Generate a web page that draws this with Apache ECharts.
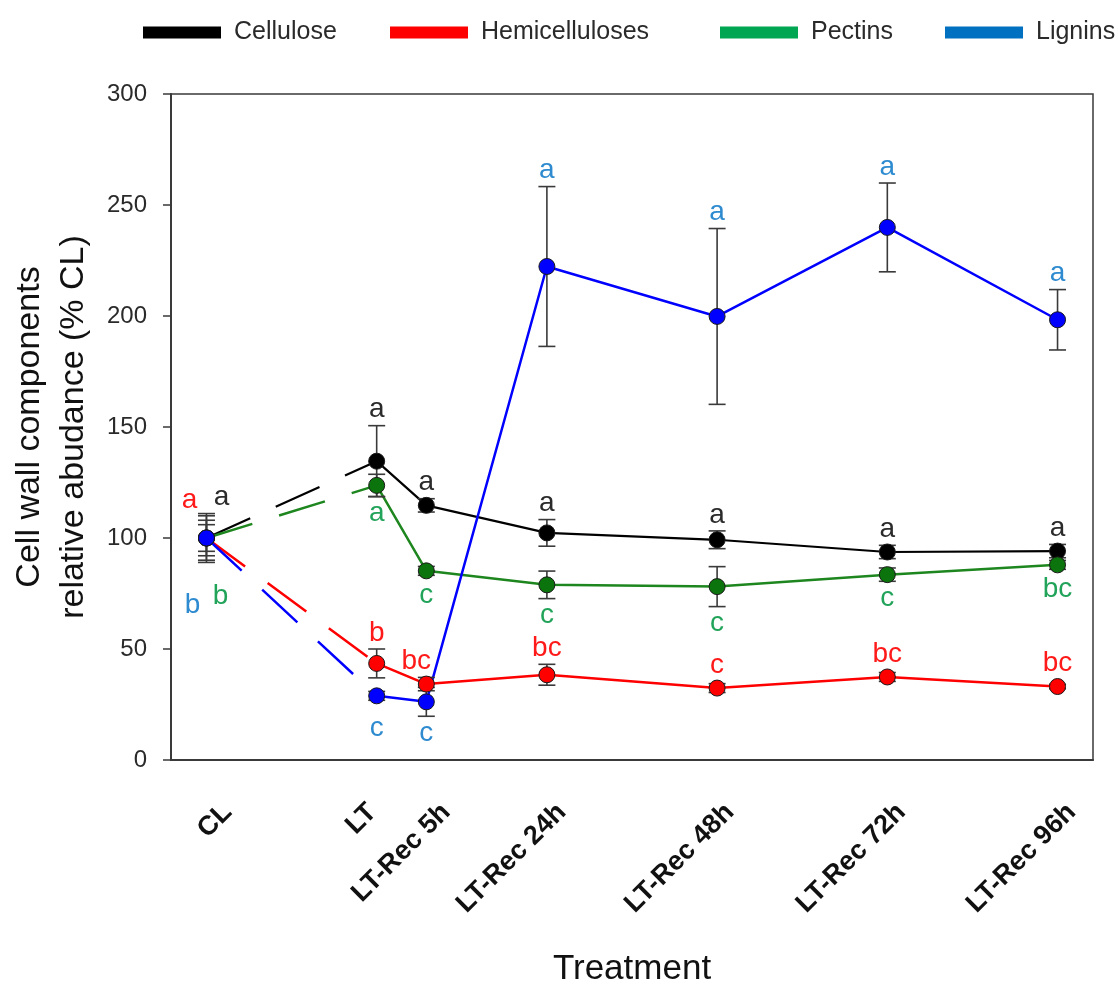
<!DOCTYPE html>
<html>
<head>
<meta charset="utf-8">
<script src="https://cdn.jsdelivr.net/npm/echarts@6/dist/echarts.min.js"></script>
<style>html,body{margin:0;padding:0;background:#fff}#c{width:1118px;height:992px}</style>
</head>
<body>
<div id="c"></div>
<script>
// ---------- data ----------
var categories = ['CL', 'LT', 'LT-Rec 5h', 'LT-Rec 24h', 'LT-Rec 48h', 'LT-Rec 72h', 'LT-Rec 96h'];
var xPos = [-24, 0, 7, 24, 48, 72, 96];
var yTicks = [0, 50, 100, 150, 200, 250, 300];

var celluloseMean = [100, 134.6, 114.7, 102.3, 99.2, 93.7, 94.1];
var celluloseErr  = [11, 16, 3, 6, 4, 3, 3];
var celluloseLetters = ['a', 'a', 'a', 'a', 'a', 'a', 'a'];
var celluloseSide = ['up', 'up', 'up', 'up', 'up', 'up', 'up'];

var hemiMean = [100, 43.5, 34.2, 38.4, 32.4, 37.4, 33.1];
var hemiErr  = [8, 6.5, 3, 4.7, 2, 2, 1];
var hemiLetters = ['a', 'b', 'bc', 'bc', 'c', 'bc', 'bc'];
var hemiSide = ['up', 'up', 'up', 'up', 'up', 'up', 'up'];

var pectinMean = [100, 123.7, 85.2, 78.9, 78.1, 83.5, 87.9];
var pectinErr  = [6, 5, 2, 6.2, 9, 3, 2];
var pectinLetters = ['b', 'a', 'c', 'c', 'c', 'c', 'bc'];
var pectinSide = ['down', 'down', 'down', 'down', 'down', 'down', 'down'];

var ligninMean = [100, 28.9, 26.2, 222.3, 199.8, 239.9, 198.3];
var ligninErr  = [10, 2, 6.5, 36, 39.6, 20, 13.6];
var ligninLetters = ['b', 'c', 'c', 'a', 'a', 'a', 'a'];
var ligninSide = ['down', 'down', 'down', 'up', 'up', 'up', 'up'];

// ---------- style ----------
var FONT = 'Liberation Sans, Arial, sans-serif';
var comps = [
  {name: 'Cellulose', mean: celluloseMean, err: celluloseErr, letters: celluloseLetters, side: celluloseSide,
   line: '#000000', marker: '#000000', letter: '#2b2b2b', legend: '#000000', lw: 2.2,
   nudge: {0: [15, 0]}},
  {name: 'Hemicelluloses', mean: hemiMean, err: hemiErr, letters: hemiLetters, side: hemiSide,
   line: '#ff0000', marker: '#ff0000', letter: '#ff1a1a', legend: '#ff0000', lw: 2.5,
   nudge: {0: [-17, -4], 2: [-10, 0]}},
  {name: 'Pectins', mean: pectinMean, err: pectinErr, letters: pectinLetters, side: pectinSide,
   line: '#1e861e', marker: '#0c740c', letter: '#22a35a', legend: '#00a651', lw: 2.5,
   nudge: {0: [14, 28]}},
  {name: 'Lignins', mean: ligninMean, err: ligninErr, letters: ligninLetters, side: ligninSide,
   line: '#0000ff', marker: '#0000ff', letter: '#2f8bd0', legend: '#0070c0', lw: 2.5,
   nudge: {0: [-14, 28], 1: [0, 8]}}
];
var legendLeft = [138, 385, 715, 940];
var xLabelShift = [3.0, -0.6, 2.8, 2.1, 1.8, 2.0, 2.0];
var MARKER_R = 8;

// ---------- build ----------
var series = [];
comps.forEach(function (c, ci) {
  var pts = xPos.map(function (x, i) { return [x, c.mean[i]]; });
  series.push({
    name: c.name + ' (CL-LT)', type: 'line', data: pts.slice(0, 2), symbol: 'none', z: 2 + ci * 0.01,
    lineStyle: {color: c.line, width: c.lw, type: [48, 28]}, silent: true
  });
  series.push({
    name: c.name + ' (line)', type: 'line', data: pts.slice(1), symbol: 'none', z: 2 + ci * 0.01,
    lineStyle: {color: c.line, width: c.lw}, silent: true
  });
  series.push({
    name: c.name + ' (err)', type: 'custom', z: 3,
    data: xPos.map(function (x, i) { return [x, c.mean[i], c.err[i]]; }),
    encode: {x: 0, y: 1},
    renderItem: function (params, api) {
      var x = api.value(0), m = api.value(1), e = api.value(2);
      var top = api.coord([x, m + e]), bot = api.coord([x, m - e]);
      var hw = 8.5;
      var st = {stroke: '#3a3a3a', lineWidth: 1.6};
      return {type: 'group', children: [
        {type: 'line', shape: {x1: top[0], y1: top[1], x2: bot[0], y2: bot[1]}, style: st},
        {type: 'line', shape: {x1: top[0] - hw, y1: top[1], x2: top[0] + hw, y2: top[1]}, style: st},
        {type: 'line', shape: {x1: bot[0] - hw, y1: bot[1], x2: bot[0] + hw, y2: bot[1]}, style: st}
      ]};
    }
  });
  series.push({
    name: c.name, type: 'scatter', data: pts, symbol: 'circle', symbolSize: MARKER_R * 2, z: 4 + ci * 0.01,
    itemStyle: {color: c.marker, borderColor: '#1a1a1a', borderWidth: 1, opacity: 1}
  });
  series.push({
    name: c.name + ' (letters)', type: 'custom', z: 5,
    data: xPos.map(function (x, i) { return [x, c.mean[i], c.err[i], i]; }),
    encode: {x: 0, y: 1},
    renderItem: function (params, api) {
      var x = api.value(0), m = api.value(1), e = api.value(2), i = api.value(3);
      var p = api.coord([x, m]);
      var px, py;
      if (c.side[i] === 'up') {
        var t = api.coord([x, m + e])[1];
        py = Math.min(t, p[1] - 7) - 16;
      } else {
        var b = api.coord([x, m - e])[1];
        py = Math.max(b, p[1] + 7) + 17;
      }
      px = p[0];
      var n = c.nudge[i];
      if (n) { px += n[0]; py += n[1]; }
      return {type: 'text', x: px, y: py, style: {
        text: c.letters[i], fill: c.letter, font: '28px ' + FONT, align: 'center', verticalAlign: 'middle'}};
    }
  });
});

var legends = comps.map(function (c, i) {
  return {
    data: [{name: c.name, itemStyle: {color: c.legend, borderWidth: 0}}],
    left: legendLeft[i], top: 15, icon: 'rect', itemWidth: 78, itemHeight: 12,
    selectedMode: false,
    textStyle: {fontSize: 25, color: '#2a2a2a', fontFamily: FONT, padding: [0, 0, 0, 8]}
  };
});

var option = {
  backgroundColor: '#ffffff',
  animation: false,
  legend: legends,
  grid: {left: 171, right: 25, top: 94, bottom: 231, show: true, borderColor: '#3a3a3a', borderWidth: 1.5},
  xAxis: {
    type: 'value', min: -29, max: 101,
    name: 'Treatment', nameLocation: 'middle', nameGap: 192,
    nameTextStyle: {fontSize: 35, color: '#111', fontFamily: FONT},
    axisLine: {show: true, onZero: false, lineStyle: {color: '#3a3a3a', width: 2}},
    axisTick: {show: false},
    splitLine: {show: false},
    axisLabel: {
      customValues: xPos.map(function (x, i) { return x + xLabelShift[i]; }),
      rotate: 45, margin: 48, fontSize: 27, fontWeight: 'bold', color: '#111', fontFamily: FONT,
      formatter: function (v) {
        for (var i = 0; i < xPos.length; i++) {
          if (Math.abs(xPos[i] + xLabelShift[i] - v) < 0.01) return categories[i];
        }
        return '';
      }
    }
  },
  yAxis: {
    type: 'value', min: 0, max: 300, interval: 50,
    name: 'Cell wall components\nrelative abudance (% CL)', nameLocation: 'middle', nameGap: 75,
    nameTextStyle: {fontSize: 34, lineHeight: 44, color: '#111', fontFamily: FONT, align: 'center'},
    axisLine: {show: true, onZero: false, lineStyle: {color: '#3a3a3a', width: 2}},
    axisTick: {show: true, inside: false, length: 8, lineStyle: {color: '#3a3a3a', width: 1.5}},
    splitLine: {show: false},
    axisLabel: {
      customValues: yTicks, margin: 24, fontSize: 24, color: '#2a2a2a', fontFamily: FONT
    }
  },
  series: series
};

var chart = echarts.init(document.getElementById('c'), null, {renderer: 'canvas'});
chart.setOption(option);
</script>
</body>
</html>
